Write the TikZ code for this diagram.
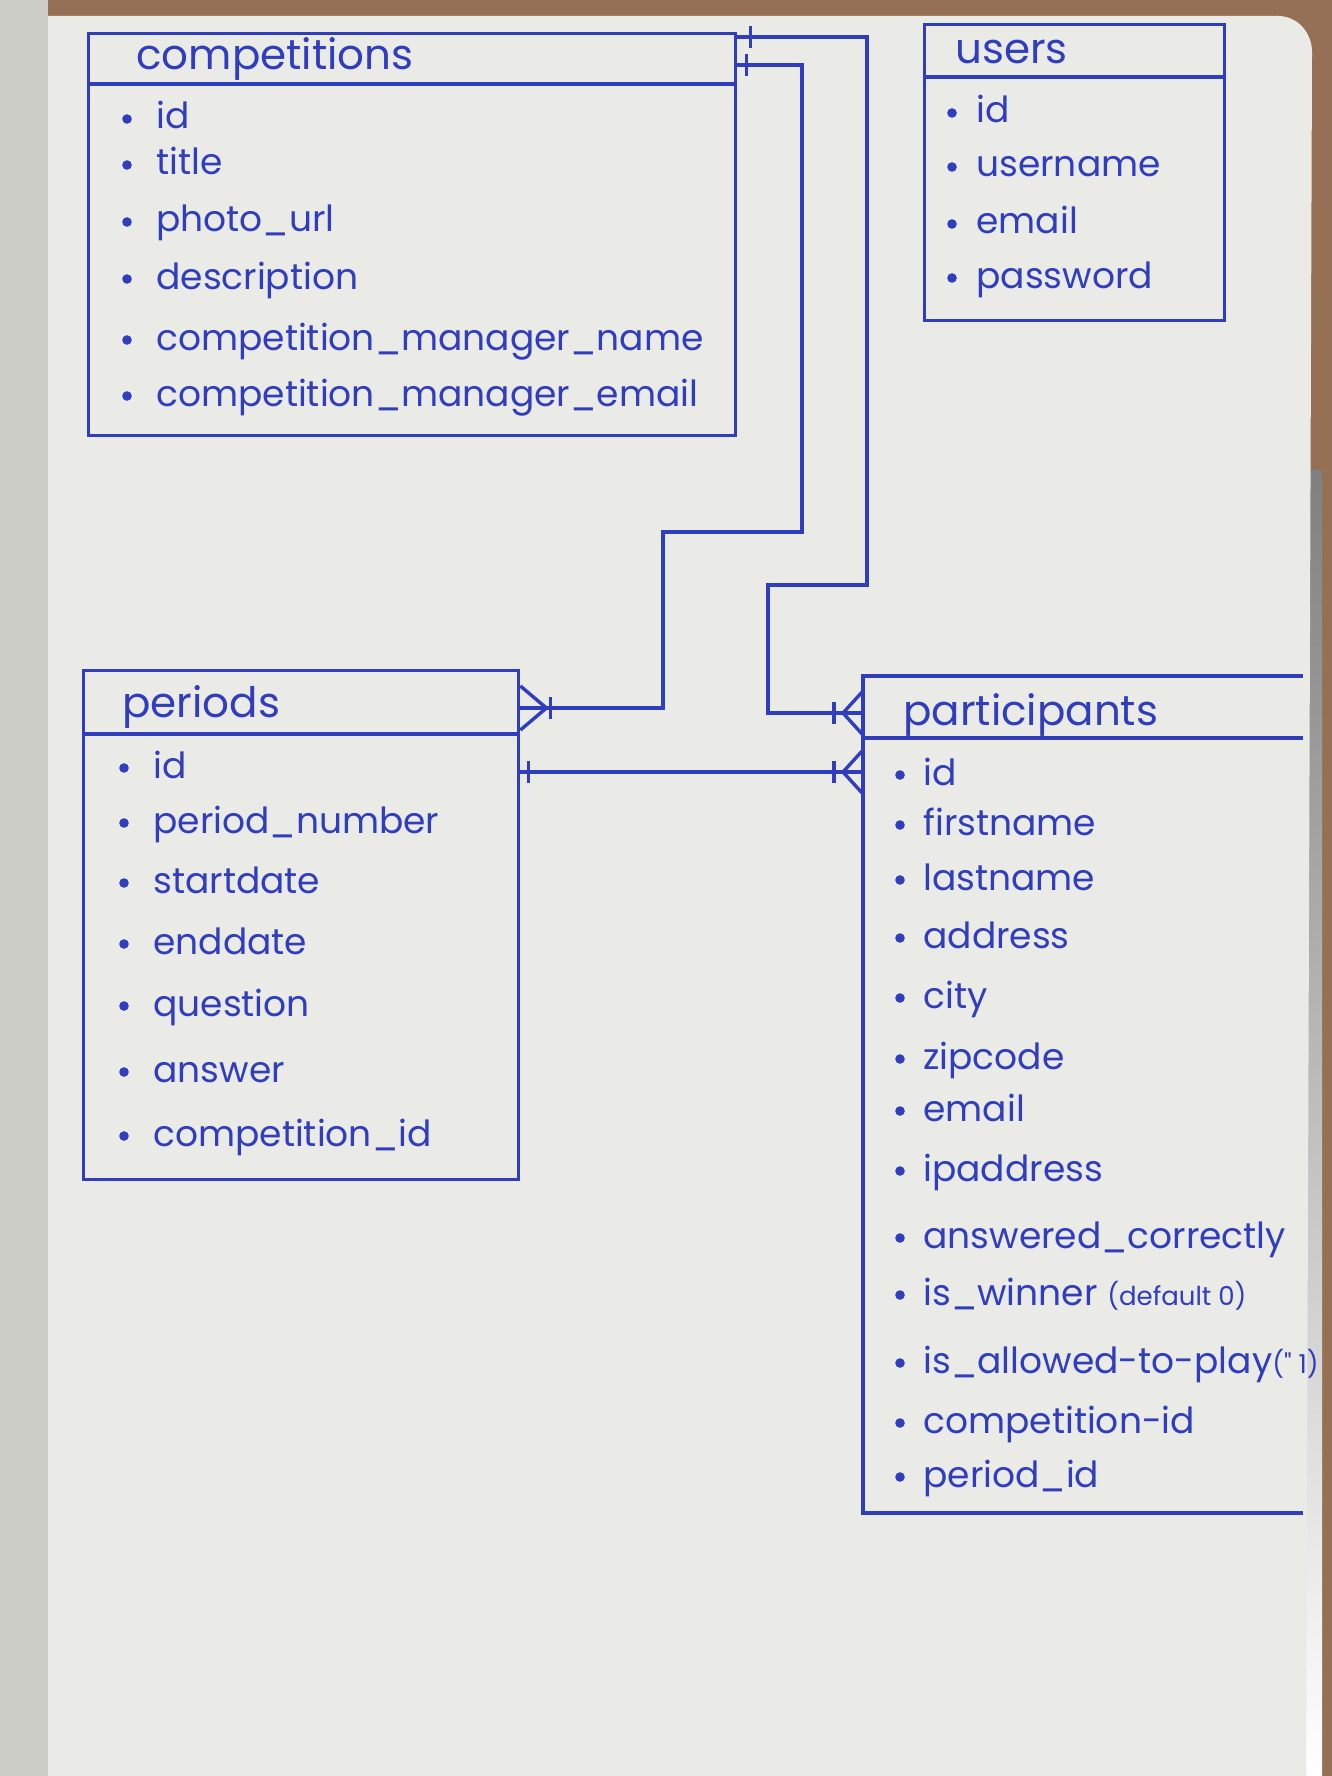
\documentclass[tikz,border=0pt]{standalone}
\usepackage{fontspec}
\newfontfamily\hand{Poppins}
\usetikzlibrary{calc}
\definecolor{ink}{RGB}{48,62,190}
\definecolor{paper}{RGB}{234,234,230}
\definecolor{cover}{RGB}{204,204,198}
\definecolor{wood}{RGB}{150,112,84}
\definecolor{shade}{RGB}{28,28,30}

\begin{document}
\begin{tikzpicture}[x=0.5pt, y=-0.5pt,
  tbl/.style={draw=ink, line width=1.7pt, inner sep=0pt, anchor=north west},
  link/.style={draw=ink, line width=1.7pt},
  title/.style={anchor=base west, text=ink, inner sep=0pt, font=\hand\fontsize{21}{21}\selectfont},
  attr/.style={anchor=base west, text=ink, inner sep=0pt, font=\hand\fontsize{18}{18}\selectfont}]
  \useasboundingbox (0,0) rectangle (1332,1776);
  % notebook page
  \fill[wood] (0,0) rectangle (1332,1776);
  \fill[cover] (0,0) rectangle (48,1776);
  \fill[shade] (1296,470) rectangle (1322,1776);
  \fill[paper] (48,1776) -- (48,16) -- (1278,16) to[out=0,in=90] (1312,52) -- (1306,1776) -- cycle;

  % competitions
  \node[tbl, minimum width=323.5pt, minimum height=201pt] (comp) at (87,32) {};
  \draw[link] (comp.west |- 0,84) -- (comp.east |- 0,84);
  \node[title] (comp-t) at (136,70) {competitions};
  \foreach \y/\t [count=\i] in {119/id, 165/title, 222/photo\_url, 279/description,
      340/competition\_manager\_name, 396/competition\_manager\_email}{
    \fill[ink] (127,\y) circle (2.4pt);
    \node[attr] (comp-\i) at (156,\y+10) {\t};
  }

  % users
  \node[tbl, minimum width=150pt, minimum height=148pt] (users) at (923,23) {};
  \draw[link] (users.west |- 0,77) -- (users.east |- 0,77);
  \node[title] (users-t) at (955,64) {users};
  \foreach \y/\t [count=\i] in {113/id, 167/username, 224/email, 278/password}{
    \fill[ink] (952,\y) circle (2.4pt);
    \node[attr] (users-\i) at (976,\y+10) {\t};
  }

  % periods
  \node[tbl, minimum width=217.5pt, minimum height=254.5pt] (per) at (82,669) {};
  \draw[link] (per.west |- 0,734) -- (per.east |- 0,734);
  \node[title] (per-t) at (122,717) {periods};
  \foreach \y/\t [count=\i] in {768/id, 823/period\_number, 883/startdate, 944/enddate,
      1006/question, 1072/answer, 1136/competition\_id}{
    \fill[ink] (124,\y) circle (2.4pt);
    \node[attr] (per-\i) at (153,\y+10) {\t};
  }

  % participants (open on the right)
  \node[anchor=north west, inner sep=0pt, minimum width=219.5pt, minimum height=418pt] (part) at (863,676) {};
  \draw[link] (part.north east) -- (part.north west) -- (part.south west) -- (part.south east);
  \draw[link] (part.west |- 0,738) -- (part.east |- 0,738);
  \node[title] (part-t) at (903,725) {participants};
  \foreach \y/\t [count=\i] in {775/id, 825/firstname, 880/lastname, 938/address, 998/city,
      1059/zipcode, 1111/email, 1171/ipaddress, 1238/answered\_correctly,
      1295/{is\_winner {\fontsize{13}{13}\selectfont(default 0)}},
      1363/{is\_allowed-to-play{\fontsize{13}{13}\selectfont(" 1)}},
      1423/competition-id, 1477/period\_id}{
    \fill[ink] (900,\y) circle (2.4pt);
    \node[attr] (part-\i) at (923,\y+10) {\t};
  }

  % competitions -> participants
  \coordinate (k1) at (867,585);
  \coordinate (k2) at (768,713);
  \draw[link] (comp.east |- 0,37) -| (k1) -| (k2) -- (part.west |- k2);
  \draw[link] ($(comp.east |- 0,37)+(13,-11)$) -- ($(comp.east |- 0,37)+(13,11)$);
  \coordinate (e1) at (part.west |- k2);
  \draw[link] ($(e1)+(0,-22)$) -- ($(e1)+(-20,0)$) -- ($(e1)+(0,22)$);
  \draw[link] ($(e1)+(-29,-11)$) -- ($(e1)+(-29,11)$);

  % competitions -> periods
  \coordinate (k3) at (802,532);
  \coordinate (k4) at (663,708);
  \draw[link] (comp.east |- 0,65) -| (k3) -| (k4) -- (per.east |- k4);
  \draw[link] ($(comp.east |- 0,65)+(9,-11)$) -- ($(comp.east |- 0,65)+(9,11)$);
  \coordinate (e2) at (per.east |- k4);
  \draw[link] ($(e2)+(0,-22)$) -- ($(e2)+(26,0)$) -- ($(e2)+(0,22)$);
  \draw[link] ($(e2)+(30,-11)$) -- ($(e2)+(30,11)$);

  % periods -> participants
  \coordinate (e3) at (part.west |- 0,772);
  \draw[link] (per.east |- e3) -- (e3);
  \draw[link] ($(per.east |- e3)+(8,-11)$) -- ($(per.east |- e3)+(8,11)$);
  \draw[link] ($(e3)+(0,-22)$) -- ($(e3)+(-20,0)$) -- ($(e3)+(0,22)$);
  \draw[link] ($(e3)+(-29,-11)$) -- ($(e3)+(-29,11)$);
\end{tikzpicture}
\end{document}
